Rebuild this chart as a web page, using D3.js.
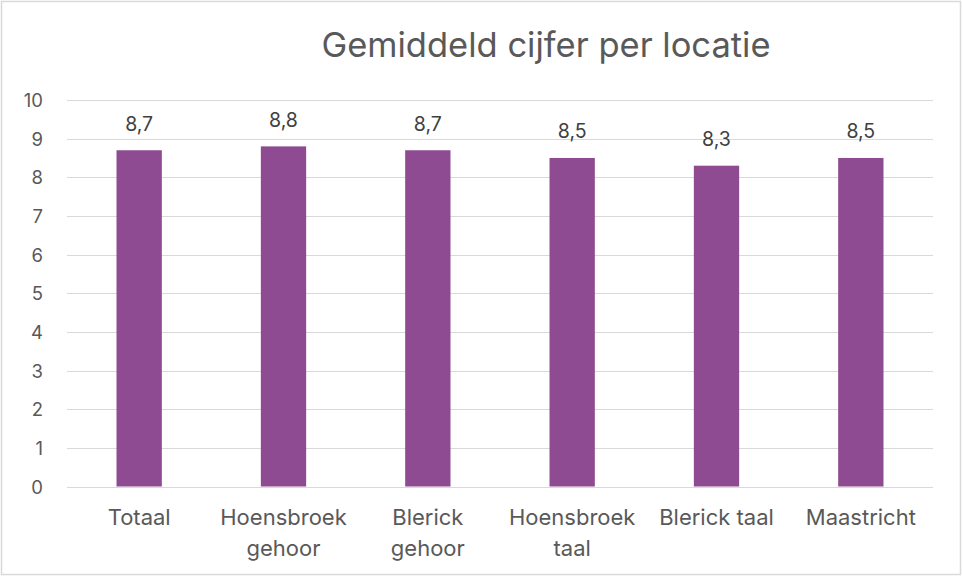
<!DOCTYPE html>
<meta charset="utf-8">
<style>
body {
  margin: 0;
  background-color: #ffffff;
}
svg text {
  font-family: Inter, "Noto Sans", sans-serif;
}
.grid line {
  stroke: #d9d9d9;
  stroke-width: 1px;
  shape-rendering: crispEdges;
}
.grid path {
  display: none;
}
.bar {
  fill: #8e4b92;
}
</style>
<svg width="963" height="576"></svg>
<script src="https://d3js.org/d3.v7.min.js"></script>
<script>

var categories = [["Totaal"], ["Hoensbroek", "gehoor"], ["Blerick", "gehoor"], ["Hoensbroek", "taal"], ["Blerick taal"], ["Maastricht"]];
var values = [8.7, 8.8, 8.7, 8.5, 8.3, 8.5];
var yTicks = [0, 1, 2, 3, 4, 5, 6, 7, 8, 9, 10];

var svg = d3.select("svg"),
    margin = {top: 100, right: 30, bottom: 89.5, left: 67},
    width = +svg.attr("width") - margin.left - margin.right,
    height = +svg.attr("height") - margin.top - margin.bottom;

// chart border
svg.append("rect")
    .attr("x", 1.5).attr("y", 1.5)
    .attr("width", 959).attr("height", 573)
    .attr("fill", "#fff")
    .attr("stroke", "#d9d9d9")
    .attr("stroke-width", 1.5);

svg.append("text")
    .attr("x", 546)
    .attr("y", 57)
    .attr("text-anchor", "middle")
    .attr("fill", "#595959")
    .style("font-size", "34.5px")
    .text("Gemiddeld cijfer per locatie");

var names = categories.map(function(c) { return c.join(" "); });

var x = d3.scaleBand().domain(names).range([0, width]).paddingInner(0.686).paddingOuter(0.343);
var y = d3.scaleLinear().domain([0, 10]).range([height, 0]);

var g = svg.append("g")
    .attr("transform", "translate(" + margin.left + "," + margin.top + ")");

var grid = g.append("g")
    .attr("class", "grid")
    .call(d3.axisLeft(y).tickValues(yTicks).tickSize(-width).tickFormat(""));

grid.selectAll(".tick")
    .append("text")
    .attr("x", -24)
    .attr("dy", "0.36em")
    .attr("text-anchor", "end")
    .attr("fill", "#595959")
    .style("font-size", "18.5px")
    .text(function(d) { return d; });

var data = names.map(function(n, i) { return {name: n, lines: categories[i], value: values[i]}; });
var fmt = function(v) { return d3.format(".1f")(v).replace(".", ","); };

g.selectAll(".bar")
    .data(data)
  .enter().append("rect")
    .attr("class", "bar")
    .attr("x", function(d) { return x(d.name); })
    .attr("y", function(d) { return y(d.value); })
    .attr("width", x.bandwidth())
    .attr("height", function(d) { return height - y(d.value); });

g.selectAll(".value")
    .data(data)
  .enter().append("text")
    .attr("class", "value")
    .attr("x", function(d) { return x(d.name) + x.bandwidth() / 2; })
    .attr("y", function(d) { return y(d.value) - 19.5; })
    .attr("text-anchor", "middle")
    .attr("fill", "#404040")
    .style("font-size", "19.5px")
    .text(function(d) { return fmt(d.value); });

var cat = g.selectAll(".cat")
    .data(data)
  .enter().append("text")
    .attr("class", "cat")
    .attr("text-anchor", "middle")
    .attr("fill", "#595959")
    .style("font-size", "22px")
    .attr("transform", function(d) { return "translate(" + (x(d.name) + x.bandwidth() / 2) + "," + (height + 38.5) + ")"; });

cat.selectAll("tspan")
    .data(function(d) { return d.lines; })
  .enter().append("tspan")
    .attr("x", 0)
    .attr("y", function(d, i) { return i * 30.5; })
    .text(function(d) { return d; });

</script>
